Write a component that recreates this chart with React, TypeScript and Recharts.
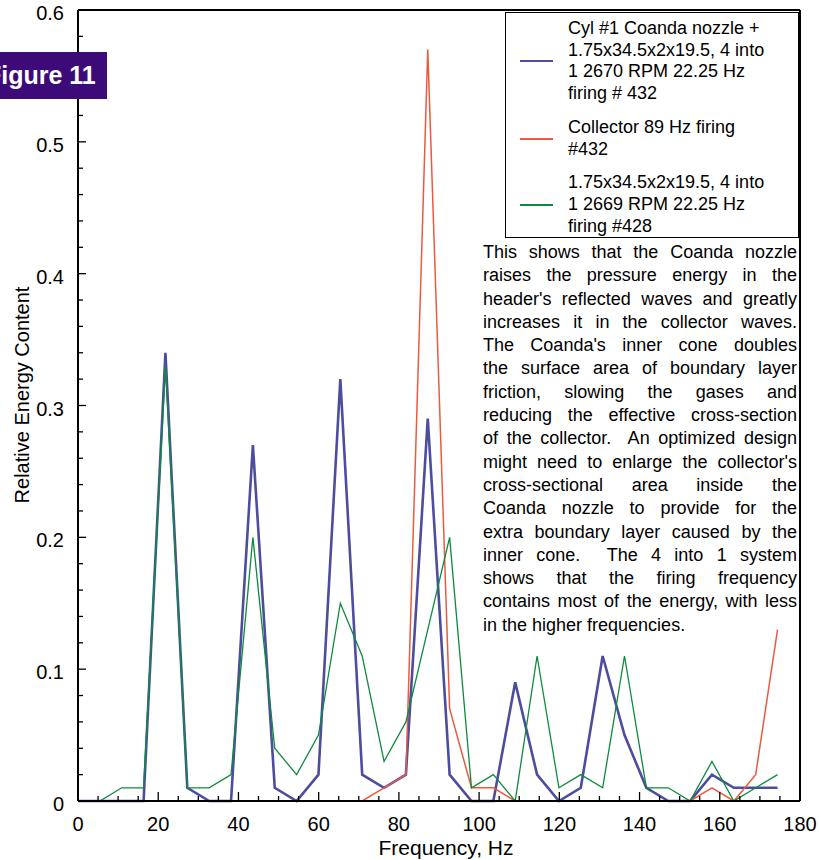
import { Label, Legend, Line, LineChart, ReferenceLine, XAxis, YAxis } from "recharts";

// frequency bins, Hz
const freqs = [
  0, 5.45, 10.9, 16.35, 21.8, 27.25, 32.7, 38.15, 43.6, 49.05, 54.5, 59.95, 65.4, 70.85, 76.3, 81.75, 87.2,
  92.65, 98.1, 103.55, 109, 114.45, 119.9, 125.35, 130.8, 136.25, 141.7, 147.15, 152.6, 158.05, 163.5, 168.95, 174.4,
];
const coanda = [
  0, 0, 0, 0, 0.34, 0.01, 0, 0, 0.27, 0.01, 0, 0.02, 0.32, 0.02, 0.01, 0.02, 0.29,
  0.02, 0, 0, 0.09, 0.02, 0, 0.01, 0.11, 0.05, 0.01, 0, 0, 0.02, 0.01, 0.01, 0.01,
];
const collector = [
  0, 0, 0, 0, 0, 0, 0, 0, 0, 0, 0, 0, 0, 0, 0.01, 0.02, 0.57,
  0.07, 0.01, 0.01, 0, 0, 0, 0, 0, 0, 0, 0, 0, 0.01, 0, 0.02, 0.13,
];
const header = [
  0, 0, 0.01, 0.01, 0.33, 0.01, 0.01, 0.02, 0.2, 0.04, 0.02, 0.05, 0.15, 0.11, 0.03, 0.06, 0.13,
  0.2, 0.01, 0.02, 0, 0.11, 0.01, 0.02, 0.01, 0.11, 0.01, 0.01, 0, 0.03, 0, 0.01, 0.02,
];

const xTicks = [
  0, 5, 10, 15, 20, 25, 30, 35, 40, 45, 50, 55, 60, 65, 70, 75, 80, 85, 90,
  95, 100, 105, 110, 115, 120, 125, 130, 135, 140, 145, 150, 155, 160, 165, 170, 175, 180,
];
const yTicks = [
  0, 0.02, 0.04, 0.06, 0.08, 0.1, 0.12, 0.14, 0.16, 0.18, 0.2, 0.22, 0.24, 0.26, 0.28, 0.3,
  0.32, 0.34, 0.36, 0.38, 0.4, 0.42, 0.44, 0.46, 0.48, 0.5, 0.52, 0.54, 0.56, 0.58, 0.6,
];

const legendLines: Record<string, string[]> = {
  coanda: ["Cyl #1 Coanda nozzle +", "1.75x34.5x2x19.5, 4 into", "1 2670 RPM 22.25 Hz", "firing # 432"],
  collector: ["Collector 89 Hz firing", "#432"],
  header: ["1.75x34.5x2x19.5, 4 into", "1 2669 RPM 22.25 Hz", "firing #428"],
};

const note = [
  "This shows that the Coanda nozzle",
  "raises the pressure energy in the",
  "header's reflected waves and greatly",
  "increases it in the collector waves.",
  "The Coanda's inner cone doubles",
  "the surface area of boundary layer",
  "friction, slowing the gases and",
  "reducing the effective cross-section",
  "of the collector.  An optimized design",
  "might need to enlarge the collector's",
  "cross-sectional area inside the",
  "Coanda nozzle to provide for the",
  "extra boundary layer caused by the",
  "inner cone.  The 4 into 1 system",
  "shows that the firing frequency",
  "contains most of the energy, with less",
  "in the higher frequencies.",
];

const data = freqs.map((f, i) => ({ f, coanda: coanda[i], collector: collector[i], header: header[i] }));

const FONT = "'Liberation Sans', Arial, sans-serif";

function XTick(props: any) {
  const { x, y, payload } = props;
  const major = payload.value % 20 === 0;
  return (
    <g>
      <line x1={x} y1={y} x2={x} y2={y - (major ? 9 : 5)} stroke="#000" strokeWidth={1.3} />
      {major && (
        <text x={x} y={y + 30} textAnchor="middle" fontSize={20} fontFamily={FONT} fill="#000">
          {payload.value}
        </text>
      )}
    </g>
  );
}

function YTick(props: any) {
  const { x, y, payload } = props;
  const major = Math.round(payload.value * 100) % 10 === 0;
  return (
    <g>
      <line x1={x} y1={y} x2={x + (major ? 8 : 5)} y2={y} stroke="#000" strokeWidth={1.3} />
      {major && (
        <text x={x - 14} y={y + 10} textAnchor="end" fontSize={20} fontFamily={FONT} fill="#000">
          {payload.value}
        </text>
      )}
    </g>
  );
}

function LegendBox(props: any) {
  const { payload } = props;
  return (
    <div
      style={{
        width: 295,
        height: 226,
        boxSizing: "border-box",
        border: "1.5px solid #000",
        borderRightWidth: 2,
        background: "#fff",
        fontFamily: FONT,
        fontSize: 18,
        lineHeight: "21.7px",
        color: "#000",
        paddingTop: 5,
      }}
    >
      {(payload || []).map((p: any) => (
        <div key={p.dataKey} style={{ display: "flex", alignItems: "center", marginBottom: 12 }}>
          <div style={{ width: 33, height: 0, borderTop: `2px solid ${p.color}`, marginLeft: 14, marginRight: 15 }} />
          <div>
            {legendLines[p.dataKey].map((t) => (
              <div key={t}>{t}</div>
            ))}
          </div>
        </div>
      ))}
    </div>
  );
}

export default function App() {
  return (
    <div style={{ position: "absolute", left: 0, top: 0, width: 819, height: 860, background: "#fff" }}>
      <LineChart width={819} height={860} data={data} margin={{ top: 10, right: 19, bottom: 29, left: 8 }}>
        <XAxis
          dataKey="f"
          type="number"
          domain={[0, 180]}
          ticks={xTicks}
          interval={0}
          tickSize={0}
          tickMargin={0}
          tickLine={false}
          tick={<XTick />}
          height={30}
          axisLine={{ stroke: "#000", strokeWidth: 2 }}
        >
          <Label
            content={() => (
              <text x={446} y={855} textAnchor="middle" fontSize={21} fontFamily={FONT} fill="#000">
                Frequency, Hz
              </text>
            )}
          />
        </XAxis>
        <YAxis
          type="number"
          domain={[0, 0.6]}
          ticks={yTicks}
          interval={0}
          tickSize={0}
          tickMargin={0}
          tickLine={false}
          tick={<YTick />}
          width={70}
          axisLine={{ stroke: "#000", strokeWidth: 2 }}
        >
          <Label
            content={() => (
              <text
                x={29}
                y={395}
                transform="rotate(-90 29 395)"
                textAnchor="middle"
                fontSize={20}
                fontFamily={FONT}
                fill="#000"
              >
                Relative Energy Content
              </text>
            )}
          />
        </YAxis>
        <ReferenceLine y={0.6} stroke="#000" strokeWidth={2} />
        <ReferenceLine x={180} stroke="#000" strokeWidth={2} />
        <Line type="linear" dataKey="coanda" stroke="#4d4d9e" strokeWidth={2.6} dot={false} isAnimationActive={false} />
        <Line type="linear" dataKey="collector" stroke="#ec5a3e" strokeWidth={1.5} dot={false} isAnimationActive={false} />
        <Line type="linear" dataKey="header" stroke="#0e8a3c" strokeWidth={1.3} dot={false} isAnimationActive={false} />
        <Legend
          layout="horizontal"
          verticalAlign="middle"
          align="center"
          content={<LegendBox />}
          wrapperStyle={{ position: "absolute", left: 505, top: 12, width: 295, height: 226 }}
        />
      </LineChart>
      <div
        style={{
          position: "absolute",
          left: 483,
          top: 241,
          width: 314,
          fontFamily: FONT,
          fontSize: 18,
          lineHeight: "23.3px",
          color: "#000",
        }}
      >
        {note.map((t, i) => (
          <div
            key={i}
            style={{
              whiteSpace: "pre-wrap",
              textAlign: "justify",
              textAlignLast: i < note.length - 1 ? "justify" : "left",
            }}
          >
            {t}
          </div>
        ))}
      </div>
      <div
        style={{
          position: "absolute",
          left: 0,
          top: 52,
          width: 107,
          height: 47,
          background: "#3c0b79",
          overflow: "hidden",
        }}
      >
        <div
          style={{
            position: "absolute",
            left: -14,
            top: 0,
            lineHeight: "47px",
            whiteSpace: "nowrap",
            color: "#fff",
            fontWeight: "bold",
            fontSize: 25,
            fontFamily: FONT,
          }}
        >
          Figure 11
        </div>
      </div>
    </div>
  );
}
